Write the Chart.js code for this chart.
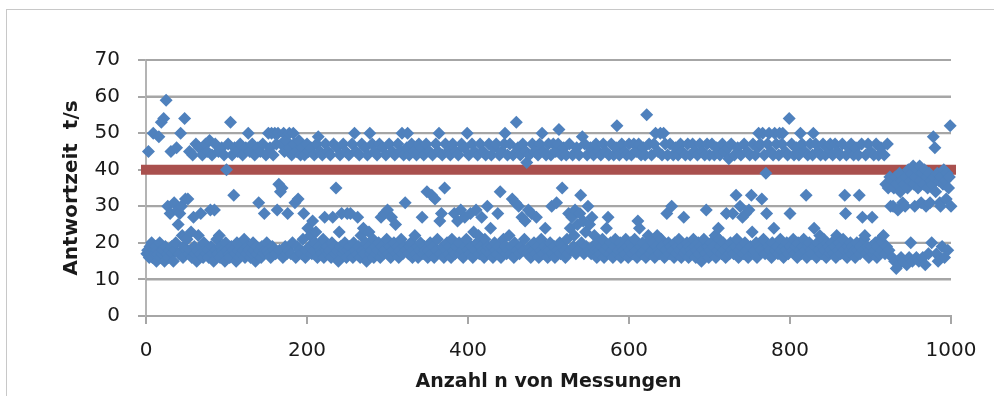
<!doctype html>
<html>
<head>
<meta charset="utf-8">
<title>Antwortzeit</title>
<script src="https://cdn.jsdelivr.net/npm/chart.js"></script>
<style>
  html, body { margin: 0; padding: 0; background: #fff; }
  canvas { display: block; }
</style>
</head>
<body>
<canvas id="c" width="994" height="396"></canvas>
<script>
// Antwortzeit je Messung (n = 1..1000)
const antwortzeit = [
  17,18,45,16,19,17,20,16,50,18,17,19,15,18,17,49,20,16,53,17,18,54,15,19,59,
  17,30,16,18,28,45,19,17,15,31,18,20,46,29,25,17,28,50,30,22,16,19,54,32,18,
  21,32,17,45,18,23,16,44,27,19,17,47,15,18,22,46,17,28,19,44,16,20,18,47,17,
  45,18,16,48,29,19,44,17,15,29,47,18,21,17,45,22,16,19,46,18,17,44,15,20,40,
  18,47,17,16,53,19,44,18,33,46,17,15,20,45,18,16,47,19,17,44,18,21,16,46,17,
  19,50,18,45,16,17,47,20,18,44,15,19,17,46,31,18,45,16,19,47,17,28,18,44,20,
  18,50,17,46,16,50,19,44,18,50,17,47,29,50,36,18,34,47,35,16,50,45,19,48,17,
  28,18,50,46,17,44,20,50,47,31,16,45,19,32,48,18,44,17,46,21,28,44,16,18,47,
  24,45,19,22,46,17,26,18,44,20,23,47,16,49,19,45,18,17,44,21,16,27,47,18,19,
  45,17,18,44,16,20,27,47,19,17,35,46,18,15,23,44,19,28,17,47,18,20,45,16,28,
  18,44,19,28,17,47,16,20,50,18,45,17,27,19,44,16,22,47,18,24,17,46,20,15,44,
  19,23,50,17,18,47,21,16,45,19,17,44,18,20,47,16,27,19,46,17,28,18,44,21,29,
  17,47,19,16,27,45,18,20,44,25,17,19,47,16,18,45,21,50,17,44,19,31,18,46,50,
  17,44,19,20,47,16,18,45,22,17,44,19,16,47,18,20,46,27,17,44,19,18,47,34,16,
  18,45,20,17,33,44,19,16,32,47,18,21,45,50,26,17,28,44,19,16,35,47,18,20,45,
  17,19,44,16,21,47,18,28,17,45,19,26,44,20,17,29,47,18,16,46,27,19,21,50,18,
  44,17,28,19,47,16,23,45,18,29,20,44,22,17,47,19,27,18,45,16,21,44,18,30,19,
  47,17,24,44,19,16,46,20,18,47,17,28,19,44,34,16,45,18,21,47,50,19,17,44,18,
  22,47,17,19,32,44,16,20,31,53,18,46,30,17,44,19,27,47,18,21,26,45,42,17,29,
  44,19,16,28,47,18,20,45,17,27,19,44,16,47,18,21,50,17,45,19,24,44,18,16,47,
  18,20,44,30,17,47,19,16,45,31,18,47,51,20,17,44,35,19,46,18,16,44,21,17,28,
  47,24,18,27,44,19,22,29,17,46,25,18,44,28,33,20,49,26,17,47,23,19,44,30,18,
  25,46,17,27,19,44,22,18,47,16,20,45,18,17,44,19,21,47,16,18,45,24,19,27,44,
  17,20,47,18,16,44,19,21,46,52,17,18,44,20,16,47,19,18,45,17,21,44,19,16,47,
  18,20,44,17,19,47,21,18,45,16,26,47,24,19,44,17,20,46,18,44,16,55,19,22,47,
  17,21,44,18,20,47,16,50,19,22,45,18,17,50,21,44,19,50,16,47,18,28,44,20,17,
  47,19,30,18,44,16,20,46,17,19,44,21,18,47,16,45,19,27,17,44,18,20,47,16,19,
  44,18,17,47,21,19,45,16,18,44,20,17,47,19,15,45,18,21,44,17,29,47,19,16,44,
  18,20,47,17,19,44,22,16,46,18,24,21,44,19,17,47,20,18,45,16,28,19,46,43,17,
  20,47,18,28,17,44,19,33,21,46,16,18,30,44,19,27,17,47,20,28,18,45,16,29,44,
  19,33,23,47,17,18,44,20,16,46,50,19,47,18,32,50,21,44,17,39,28,47,19,50,18,
  45,16,20,44,24,50,18,47,19,17,44,50,21,18,47,50,16,19,45,18,20,44,17,54,28,
  19,47,18,21,44,17,19,46,16,20,44,18,50,17,47,19,21,45,18,33,16,44,19,20,47,
  18,17,44,50,24,19,47,16,20,45,18,22,44,17,19,47,21,18,44,16,20,46,19,17,47,
  18,20,44,17,19,47,16,22,45,18,20,44,17,19,47,21,18,33,28,44,16,19,46,18,20,
  47,17,19,44,18,16,46,20,18,44,33,17,19,47,27,18,21,22,44,17,19,47,16,18,45,
  19,27,17,44,18,20,47,16,19,44,17,21,46,18,20,22,44,17,36,19,47,35,18,38,30,
  37,16,30,35,15,38,13,36,29,14,39,34,16,37,31,15,36,30,38,14,35,40,16,37,20,
  39,15,41,36,30,38,16,40,35,15,41,37,31,39,16,36,40,14,30,38,35,17,39,31,37,
  20,36,49,38,46,34,17,39,15,37,31,30,38,19,36,40,16,37,32,39,18,35,38,52,30
];

// Grenzwert-Linie
const grenzwertX = [0, 1000];
const grenzwertY = [40, 40];

const xTickValues = [0, 200, 400, 600, 800, 1000];
const yTickValues = [0, 10, 20, 30, 40, 50, 60, 70];

const xTitle = 'Anzahl n von Messungen';
const yTitle = 'Antwortzeit  t/s';

const punkte = antwortzeit.map((v, i) => ({ x: i + 1, y: v }));
const grenzwert = grenzwertX.map((x, i) => ({ x, y: grenzwertY[i] }));

const gridColor = '#a6a6a6';
const tickFont = { family: 'DejaVu Sans', size: 20 };

// horizontal gridlines also as plain line datasets behind the marks
const gitterSets = yTickValues.map(v => ({
  type: 'line',
  label: 'gitter' + v,
  data: [{ x: 0, y: v }, { x: 1000, y: v }],
  borderColor: gridColor,
  borderWidth: 2,
  pointRadius: 0,
  fill: false,
  clip: false,
  order: 10
}));

// thin outer frame of the chart object (left and top edge)
const rahmen = {
  id: 'rahmen',
  beforeDraw(chart) {
    const ctx = chart.ctx;
    ctx.save();
    ctx.fillStyle = '#c8c8c8';
    ctx.fillRect(6, 9, 1, 396 - 9);
    ctx.fillRect(6, 9, 994 - 6, 1);
    ctx.restore();
  }
};

new Chart(document.getElementById('c'), {
  type: 'scatter',
  data: {
    datasets: [
      {
        label: 'Antwortzeit',
        data: punkte,
        pointStyle: 'rectRot',
        pointRadius: 6.5,
        pointBorderWidth: 0,
        backgroundColor: '#4f81bd',
        borderColor: '#4f81bd',
        clip: false,
        order: 0
      },
      {
        type: 'line',
        label: 'Grenzwert',
        data: grenzwert,
        borderColor: '#a9504e',
        borderWidth: 10,
        borderCapStyle: 'square',
        pointRadius: 0,
        fill: false,
        clip: false,
        order: 1
      },
      ...gitterSets
    ]
  },
  plugins: [rahmen],
  options: {
    responsive: false,
    animation: false,
    devicePixelRatio: 1,
    layout: { padding: { left: 60, right: 43, top: 60, bottom: 3 } },
    plugins: { legend: { display: false }, tooltip: { enabled: false } },
    scales: {
      x: {
        type: 'linear',
        min: 0,
        max: 1000,
        afterBuildTicks: s => { s.ticks = xTickValues.map(v => ({ value: v })); },
        afterFit: s => { s.height = 77; },
        grid: { drawOnChartArea: false, drawTicks: true, tickLength: 8, color: gridColor, lineWidth: 2 },
        border: { display: true, color: gridColor, width: 2 },
        ticks: { font: tickFont, color: '#1a1a1a', padding: 15, maxRotation: 0, callback: v => String(v) },
        title: { display: true, text: xTitle, font: { family: 'DejaVu Sans', size: 19, weight: 'bold' }, color: '#1a1a1a', padding: 0 }
      },
      y: {
        min: 0,
        max: 70,
        afterBuildTicks: s => { s.ticks = yTickValues.map(v => ({ value: v })); },
        afterFit: s => { s.width = 86; },
        grid: { drawTicks: true, tickLength: 8, color: gridColor, lineWidth: 2 },
        border: { display: true, color: '#b4b4b4', width: 2 },
        ticks: { font: tickFont, color: '#1a1a1a', padding: 18, callback: v => String(v) },
        title: { display: true, text: yTitle, font: { family: 'DejaVu Sans', size: 20, weight: 'bold' }, color: '#1a1a1a', padding: 0 }
      }
    }
  }
});
</script>
</body>
</html>
